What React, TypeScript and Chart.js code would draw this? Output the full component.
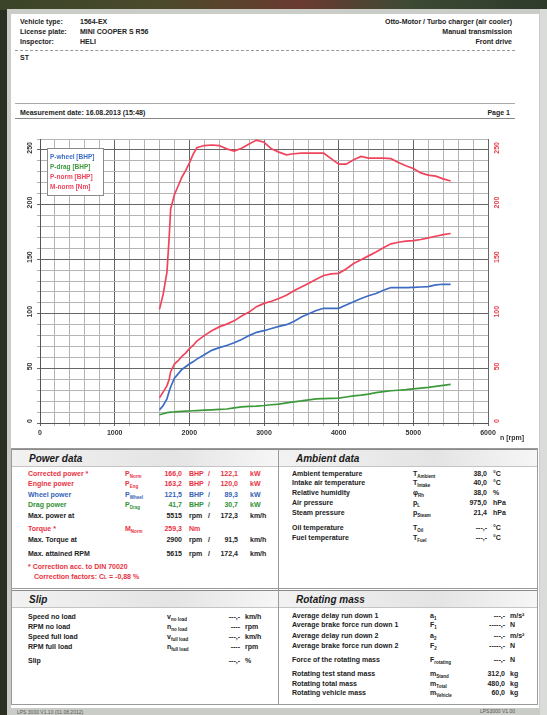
import React, { useEffect, useRef } from "react";
import { Chart, registerables } from "chart.js";

Chart.register(...registerables);

// ---------- chart data ----------
const rpm = [1600, 1650, 1700, 1730, 1750, 1800, 1850, 1900, 1950, 2000, 2050, 2100, 2200, 2300, 2400, 2500, 2600, 2700, 2800, 2900, 3000, 3100, 3200, 3300, 3400, 3500, 3600, 3700, 3800, 3900, 4000, 4100, 4200, 4300, 4400, 4500, 4600, 4700, 4800, 4900, 5000, 5100, 5200, 5300, 5400, 5500];
const pWheel = [12, 16, 22, 29, 33, 41, 45, 49, 51.5, 54, 56, 58.5, 62.5, 66.5, 69, 71, 73.5, 76.5, 80, 83, 84.5, 86.5, 88.5, 90, 93, 97, 100, 103, 105, 105, 105, 108, 111, 114, 116.5, 118.5, 121.5, 124, 124, 124, 124.2, 124.5, 124.8, 126.5, 127, 127];
const pDrag = [7.5, 8.5, 9.5, 9.8, 10, 10.2, 10.5, 10.7, 10.9, 11, 11.2, 11.4, 11.7, 12, 12.4, 12.8, 13.8, 14.8, 15.2, 15.5, 16, 16.7, 17.3, 18.5, 19.4, 20.2, 21.2, 22, 22.3, 22.5, 22.8, 23.8, 24.8, 25.5, 26.5, 27.8, 28.8, 29.5, 30, 30.5, 31.2, 32, 32.6, 33.5, 34.5, 35.4];
const pNorm = [23, 28.5, 34, 40, 47, 54, 57, 61, 64, 68, 71, 75, 80, 84.5, 88, 90.5, 93.5, 98, 101.5, 106.5, 109.5, 111.5, 114, 117, 121, 124.5, 128, 131.5, 135, 136.5, 137, 141, 146, 149.5, 153, 156.5, 160.5, 164, 165.5, 166.5, 167, 168, 169.5, 171, 172.5, 173.5];
const mNorm = [104, 118, 138, 170, 196, 209, 217, 225, 231, 238, 246, 252, 254, 254.5, 254, 251, 249, 251.5, 255.5, 259, 257, 251, 248, 245.5, 246.5, 247, 247, 247, 247, 242, 237, 237, 241, 244, 242.5, 242.5, 242.5, 242, 238.5, 235.5, 233, 229, 227, 226, 223.5, 221.5];

const seriesNames = ["P-wheel [BHP]", "P-drag [BHP]", "P-norm [BHP]", "M-norm [Nm]"];
const seriesColors = ["#3d6cc4", "#3c9a3c", "#f0445c", "#f0445c"];
const yTickLabels = [0, 50, 100, 150, 200, 250];
const xAxisTitle = "n [rpm]";

const FONT = '"Liberation Sans", Arial, sans-serif';

const overlayPlugin = {
  id: "overlay",
  afterDraw(chart: any) {
    const { ctx, chartArea, scales } = chart;
    const yl = scales.y;
    const yr = scales.y2;
    ctx.save();
    ctx.font = `bold 7px ${FONT}`;
    ctx.textAlign = "center";
    ctx.textBaseline = "middle";
    yTickLabels.forEach((v) => {
      const pl = yl.getPixelForValue(v) - 2;
      ctx.save();
      ctx.translate(chartArea.left - 10, pl);
      ctx.rotate(-Math.PI / 2);
      ctx.fillStyle = "#333";
      ctx.fillText(String(v), 0, 0);
      ctx.restore();
      const pr = yr.getPixelForValue(v) - 2;
      ctx.save();
      ctx.translate(chartArea.right + 9, pr);
      ctx.rotate(-Math.PI / 2);
      ctx.fillStyle = "#e8404c";
      ctx.fillText(String(v), 0, 0);
      ctx.restore();
    });
    // axis title
    ctx.fillStyle = "#333";
    ctx.textAlign = "left";
    ctx.fillText(xAxisTitle, chartArea.right + 12, chartArea.bottom + 15);
    // legend box
    const lx = chartArea.left + 7;
    const ly = chartArea.top + 9;
    const lw = 56;
    const lh = 47;
    ctx.fillStyle = "#ffffff";
    ctx.fillRect(lx, ly, lw, lh);
    ctx.strokeStyle = "#8a8a8a";
    ctx.lineWidth = 1;
    ctx.strokeRect(lx + 0.5, ly + 0.5, lw, lh);
    ctx.font = `bold 6.5px ${FONT}`;
    chart.data.datasets.forEach((ds: any, i: number) => {
      ctx.fillStyle = ds.borderColor;
      ctx.fillText(ds.label, lx + 3, ly + 9 + i * 10);
    });
    ctx.restore();
  },
};

function DynoChart() {
  const ref = useRef<HTMLCanvasElement | null>(null);
  useEffect(() => {
    if (!ref.current) return;
    const series = [pWheel, pDrag, pNorm, mNorm];
    const chart = new Chart(ref.current, {
      type: "line",
      data: {
        datasets: series.map((s, i) => ({
          label: seriesNames[i],
          data: rpm.map((r, k) => ({ x: r, y: s[k] })),
          borderColor: seriesColors[i],
          backgroundColor: seriesColors[i],
          borderWidth: 1.7,
          pointRadius: 0,
          tension: 0,
          yAxisID: i === 3 ? "y2" : "y",
        })),
      },
      options: {
        animation: false,
        responsive: false,
        maintainAspectRatio: false,
        layout: { padding: { top: 19, left: 0, right: 0, bottom: 0 } },
        plugins: { legend: { display: false }, tooltip: { enabled: false } },
        scales: {
          x: {
            type: "linear",
            min: 0,
            max: 6000,
            afterFit: (s: any) => {
              s.height = 23;
            },
            ticks: {
              stepSize: 200,
              autoSkip: false,
              maxRotation: 0,
              padding: 3,
              color: "#333",
              font: { family: FONT, size: 7, weight: "bold" },
              callback: (v: any) => (Number(v) % 1000 === 0 ? String(v) : ""),
            },
            grid: {
              color: (c: any) => (c.tick && c.tick.value % 1000 === 0 ? "#666666" : "#b4b4b4"),
              tickLength: 3,
            },
            border: { color: "#555" },
          },
          y: {
            position: "left",
            min: 0,
            max: 260,
            afterFit: (s: any) => {
              s.width = 25;
            },
            ticks: { stepSize: 10, display: false },
            grid: {
              color: (c: any) => (c.tick && c.tick.value % 50 === 0 ? "#666666" : "#b4b4b4"),
              tickLength: 3,
            },
            border: { color: "#555" },
          },
          y2: {
            position: "right",
            min: 0,
            max: 260,
            afterFit: (s: any) => {
              s.width = 49;
            },
            ticks: { stepSize: 10, display: false },
            grid: { display: false },
            border: { display: false },
          },
        },
      },
      plugins: [overlayPlugin],
    });
    return () => chart.destroy();
  }, []);
  return <canvas ref={ref} width={522} height={326} style={{ position: "absolute", left: 15, top: 120, width: 522, height: 326 }} />;
}

// ---------- page helpers ----------
const base: React.CSSProperties = {
  position: "absolute",
  fontFamily: FONT,
  fontSize: 7,
  fontWeight: 700,
  lineHeight: "8px",
  whiteSpace: "nowrap",
  color: "#222",
};

function T(props: { x: number; y: number; r?: boolean; c?: string; s?: React.CSSProperties; children: React.ReactNode }) {
  const st: React.CSSProperties = { ...base, top: props.y - 4, color: props.c || "#222", ...(props.s || {}) };
  if (props.r) st.right = 547 - props.x;
  else st.left = props.x;
  return <div style={st}>{props.children}</div>;
}

function Sym({ m, sub }: { m: string; sub: string }) {
  return (
    <span>
      {m}
      <span style={{ fontSize: 4.5, position: "relative", top: 2 }}>{sub}</span>
    </span>
  );
}

function Header({ x, y, w, text }: { x: number; y: number; w: number; text: string }) {
  return (
    <div
      style={{
        position: "absolute",
        left: x,
        top: y,
        width: w,
        height: 16,
        borderTop: "1px solid #8a8a8a",
        borderBottom: "1px solid #c4c4c4",
        background: "linear-gradient(to right, #f2f2f2, #e4e4e4 60%, #f6f6f6)",
      }}
    >
      <div style={{ ...base, left: 17, top: 3, fontSize: 10, lineHeight: "11px", fontStyle: "italic", color: "#1a1a1a" }}>{text}</div>
    </div>
  );
}

const red = "#e8323f";
const blue = "#3563b8";
const green = "#2f9236";

export default function App() {
  return (
    <div style={{ position: "fixed", left: 0, top: 0, width: 547, height: 715, overflow: "hidden", background: "#2a3122" }}>
      {/* photo background strips */}
      <div style={{ position: "absolute", left: 0, top: 0, width: 547, height: 10, background: "linear-gradient(to right, #3a4428, #4c4a2c 30%, #6a3a30 55%, #3c4a34 75%, #2e3a2a)" }} />
      {/* paper */}
      <div style={{ position: "absolute", left: 7, top: 9, width: 540, height: 706, background: "#c9ccc7" }} />
      <div style={{ position: "absolute", left: 11, top: 14, width: 528, height: 694, background: "#ffffff" }} />
      <div style={{ position: "absolute", left: 540, top: 9, width: 7, height: 706, background: "#d9dcd8" }} />

      {/* header block */}
      <T x={20} y={22}>Vehicle type:</T>
      <T x={80} y={22}>1564-EX</T>
      <T x={20} y={32}>License plate:</T>
      <T x={80} y={32}>MINI COOPER S R56</T>
      <T x={20} y={42}>Inspector:</T>
      <T x={80} y={42}>HELI</T>
      <T x={512} y={22} r>Otto-Motor / Turbo charger (air cooler)</T>
      <T x={512} y={32} r>Manual transmission</T>
      <T x={512} y={42} r>Front drive</T>
      <div style={{ position: "absolute", left: 15, top: 50, width: 500, height: 0, borderTop: "1px dashed #999" }} />
      <T x={20} y={58}>ST</T>
      <div style={{ position: "absolute", left: 15, top: 103, width: 500, height: 0, borderTop: "1px solid #aaa" }} />
      <T x={20} y={113}>Measurement date: 16.08.2013 (15:48)</T>
      <T x={510} y={113} r>Page 1</T>
      <div style={{ position: "absolute", left: 15, top: 118, width: 500, height: 0, borderTop: "1px solid #888" }} />

      <DynoChart />

      {/* bottom panels */}
      <div style={{ position: "absolute", left: 11, top: 448, width: 527, height: 257, border: "1px solid #9a9a9a", boxSizing: "border-box" }} />
      <div style={{ position: "absolute", left: 278, top: 448, width: 1, height: 257, background: "#9a9a9a" }} />
      <div style={{ position: "absolute", left: 11, top: 588, width: 527, height: 1, background: "#9a9a9a" }} />
      <Header x={12} y={449} w={266} text="Power data" />
      <Header x={279} y={449} w={258} text="Ambient data" />
      <Header x={12} y={590} w={266} text="Slip" />
      <Header x={279} y={590} w={258} text="Rotating mass" />

      {/* Power data */}
      <T x={28} y={474} c={red}>Corrected power *</T>
      <T x={125} y={474} c={red}><Sym m="P" sub="Norm" /></T>
      <T x={182} y={474} r c={red}>166,0</T>
      <T x={189} y={474} c={red}>BHP</T>
      <T x={208} y={474} c={red}>/</T>
      <T x={238} y={474} r c={red}>122,1</T>
      <T x={250} y={474} c={red}>kW</T>

      <T x={28} y={484} c={red}>Engine power</T>
      <T x={125} y={484} c={red}><Sym m="P" sub="Eng" /></T>
      <T x={182} y={484} r c={red}>163,2</T>
      <T x={189} y={484} c={red}>BHP</T>
      <T x={208} y={484} c={red}>/</T>
      <T x={238} y={484} r c={red}>120,0</T>
      <T x={250} y={484} c={red}>kW</T>

      <T x={28} y={495} c={blue}>Wheel power</T>
      <T x={125} y={495} c={blue}><Sym m="P" sub="Wheel" /></T>
      <T x={182} y={495} r c={blue}>121,5</T>
      <T x={189} y={495} c={blue}>BHP</T>
      <T x={208} y={495} c={blue}>/</T>
      <T x={238} y={495} r c={blue}>89,3</T>
      <T x={250} y={495} c={blue}>kW</T>

      <T x={28} y={505} c={green}>Drag power</T>
      <T x={125} y={505} c={green}><Sym m="P" sub="Drag" /></T>
      <T x={182} y={505} r c={green}>41,7</T>
      <T x={189} y={505} c={green}>BHP</T>
      <T x={208} y={505} c={green}>/</T>
      <T x={238} y={505} r c={green}>30,7</T>
      <T x={250} y={505} c={green}>kW</T>

      <T x={28} y={516}>Max. power at</T>
      <T x={182} y={516} r>5515</T>
      <T x={189} y={516}>rpm</T>
      <T x={208} y={516}>/</T>
      <T x={238} y={516} r>172,3</T>
      <T x={250} y={516}>km/h</T>

      <T x={28} y={529} c={red}>Torque *</T>
      <T x={125} y={529} c={red}><Sym m="M" sub="Norm" /></T>
      <T x={182} y={529} r c={red}>259,3</T>
      <T x={189} y={529} c={red}>Nm</T>

      <T x={28} y={540}>Max. Torque at</T>
      <T x={182} y={540} r>2900</T>
      <T x={189} y={540}>rpm</T>
      <T x={208} y={540}>/</T>
      <T x={238} y={540} r>91,5</T>
      <T x={250} y={540}>km/h</T>

      <T x={28} y={554}>Max. attained RPM</T>
      <T x={182} y={554} r>5615</T>
      <T x={189} y={554}>rpm</T>
      <T x={208} y={554}>/</T>
      <T x={238} y={554} r>172,4</T>
      <T x={250} y={554}>km/h</T>

      <T x={28} y={567} c={red}>* Correction acc. to DIN 70020</T>
      <T x={34} y={577} c={red}>Correction factors: C<span style={{ fontSize: 5 }}>L</span> = -0,88 %</T>

      {/* Ambient data */}
      <T x={292} y={474}>Ambient temperature</T>
      <T x={413} y={474}><Sym m="T" sub="Ambient" /></T>
      <T x={487} y={474} r>38,0</T>
      <T x={493} y={474}>°C</T>
      <T x={292} y={483}>Intake air temperature</T>
      <T x={413} y={483}><Sym m="T" sub="Intake" /></T>
      <T x={487} y={483} r>40,0</T>
      <T x={493} y={483}>°C</T>
      <T x={292} y={493}>Relative humidity</T>
      <T x={413} y={493}><Sym m="φ" sub="Rh" /></T>
      <T x={487} y={493} r>38,0</T>
      <T x={493} y={493}>%</T>
      <T x={292} y={503}>Air pressure</T>
      <T x={413} y={503}><Sym m="p" sub="L" /></T>
      <T x={487} y={503} r>975,0</T>
      <T x={493} y={503}>hPa</T>
      <T x={292} y={513}>Steam pressure</T>
      <T x={413} y={513}><Sym m="p" sub="Steam" /></T>
      <T x={487} y={513} r>21,4</T>
      <T x={493} y={513}>hPa</T>
      <T x={292} y={528}>Oil temperature</T>
      <T x={413} y={528}><Sym m="T" sub="Oil" /></T>
      <T x={487} y={528} r>---,-</T>
      <T x={493} y={528}>°C</T>
      <T x={292} y={538}>Fuel temperature</T>
      <T x={413} y={538}><Sym m="T" sub="Fuel" /></T>
      <T x={487} y={538} r>---,-</T>
      <T x={493} y={538}>°C</T>

      {/* Slip */}
      <T x={28} y={617}>Speed no load</T>
      <T x={167} y={617}><Sym m="v" sub="no load" /></T>
      <T x={240} y={617} r>---,-</T>
      <T x={245} y={617}>km/h</T>
      <T x={28} y={627}>RPM no load</T>
      <T x={167} y={627}><Sym m="n" sub="no load" /></T>
      <T x={240} y={627} r>----</T>
      <T x={245} y={627}>rpm</T>
      <T x={28} y={637}>Speed full load</T>
      <T x={167} y={637}><Sym m="v" sub="full load" /></T>
      <T x={240} y={637} r>---,-</T>
      <T x={245} y={637}>km/h</T>
      <T x={28} y={647}>RPM full load</T>
      <T x={167} y={647}><Sym m="n" sub="full load" /></T>
      <T x={240} y={647} r>----</T>
      <T x={245} y={647}>rpm</T>
      <T x={28} y={661}>Slip</T>
      <T x={240} y={661} r>---,-</T>
      <T x={245} y={661}>%</T>

      {/* Rotating mass */}
      <T x={292} y={616}>Average delay run down 1</T>
      <T x={430} y={616}><Sym m="a" sub="1" /></T>
      <T x={505} y={616} r>---,-</T>
      <T x={510} y={616}>m/s²</T>
      <T x={292} y={625}>Average brake force run down 1</T>
      <T x={430} y={625}><Sym m="F" sub="1" /></T>
      <T x={505} y={625} r>-----,-</T>
      <T x={510} y={625}>N</T>
      <T x={292} y={636}>Average delay run down 2</T>
      <T x={430} y={636}><Sym m="a" sub="2" /></T>
      <T x={505} y={636} r>---,-</T>
      <T x={510} y={636}>m/s²</T>
      <T x={292} y={646}>Average brake force run down 2</T>
      <T x={430} y={646}><Sym m="F" sub="2" /></T>
      <T x={505} y={646} r>-----,-</T>
      <T x={510} y={646}>N</T>
      <T x={292} y={660}>Force of the rotating mass</T>
      <T x={430} y={660}><Sym m="F" sub="rotating" /></T>
      <T x={505} y={660} r>---,-</T>
      <T x={510} y={660}>N</T>
      <T x={292} y={674}>Rotating test stand mass</T>
      <T x={430} y={674}><Sym m="m" sub="Stand" /></T>
      <T x={505} y={674} r>312,0</T>
      <T x={510} y={674}>kg</T>
      <T x={292} y={684}>Rotating total mass</T>
      <T x={430} y={684}><Sym m="m" sub="Total" /></T>
      <T x={505} y={684} r>480,0</T>
      <T x={510} y={684}>kg</T>
      <T x={292} y={693}>Rotating vehicle mass</T>
      <T x={430} y={693}><Sym m="m" sub="Vehicle" /></T>
      <T x={505} y={693} r>60,0</T>
      <T x={510} y={693}>kg</T>

      {/* footer */}
      <T x={17} y={712} s={{ fontSize: 5, fontWeight: 400, color: "#555" }}>LPS 3000 V1.10 (01.08.2012)</T>
      <T x={515} y={711} r s={{ fontSize: 5, fontWeight: 400, color: "#555" }}>LPS3000 V1.00</T>
    </div>
  );
}
